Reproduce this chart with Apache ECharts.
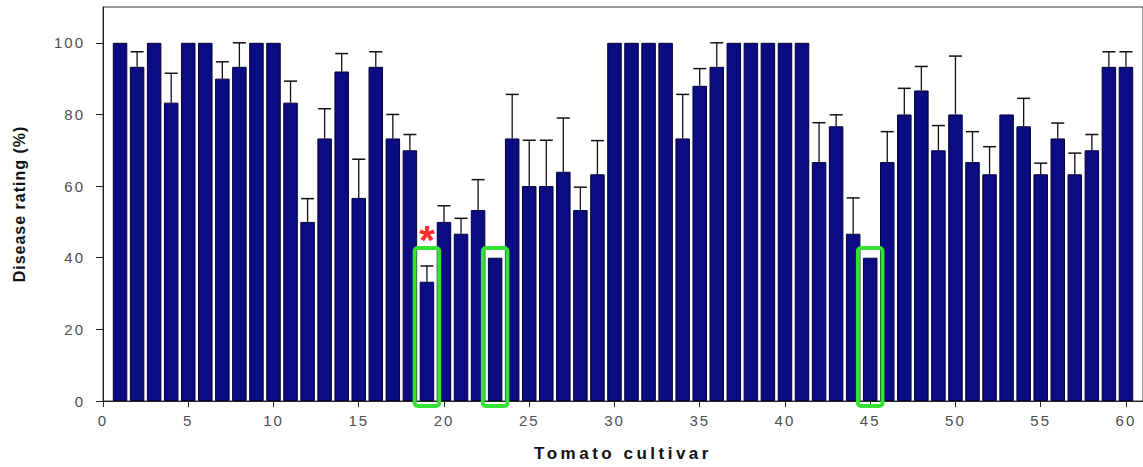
<!DOCTYPE html>
<html>
<head>
<meta charset="utf-8">
<script src="https://cdn.jsdelivr.net/npm/echarts@6/dist/echarts.min.js"></script>
<style>
  html, body { margin: 0; padding: 0; background: #fff; }
  #chart { width: 1143px; height: 467px; }
  #chart text[style*="15px"] { letter-spacing: 2px; }
  #chart text[style*="17px"] { letter-spacing: 3.5px; }
  #chart text[style*="16px"] { letter-spacing: 1px; }
</style>
</head>
<body>
<div id="chart"></div>
<script>
// ---- data ----
const cultivars = [1,2,3,4,5,6,7,8,9,10,11,12,13,14,15,16,17,18,19,20,21,22,23,24,25,26,27,28,29,30,
                   31,32,33,34,35,36,37,38,39,40,41,42,43,44,45,46,47,48,49,50,51,52,53,54,55,56,57,58,59,60];
const diseaseRating = [100,93.3,100,83.3,100,100,90,93.3,100,100,83.3,50,73.3,92,56.7,93.3,73.3,70,33.3,50,
                       46.7,53.3,40,73.3,60,60,64,53.3,63.3,100,100,100,100,73.3,88,93.3,100,100,100,100,
                       100,66.7,76.7,46.7,40,66.7,80,86.7,70,80,66.7,63.3,80,76.7,63.3,73.3,63.3,70,93.3,93.3];
const errorUp = [0,4.2,0,8.2,0,0,4.7,6.7,0,0,6,6.5,8.3,5,10.8,4.2,6.7,4.4,4.4,4.5,
                 4.3,8.5,0,12.3,12.8,12.8,15,6.4,9.4,0,0,0,0,12.3,4.8,6.7,0,0,0,0,
                 0,11,3.2,10,0,8.5,7.3,6.7,6.9,16.3,8.5,7.7,0,7.8,3.1,4.3,5.9,4.4,4.2,4.2];
const highlighted = [19, 23, 45];
const starred = [19];
const xTicks = [0,5,10,15,20,25,30,35,40,45,50,55,60];
const yTicks = [0,20,40,60,80,100];

// ---- build ----
const barData = cultivars.map((c, i) => [c, diseaseRating[i]]);
const errData = cultivars.map((c, i) => [c, diseaseRating[i], errorUp[i]]);
const boxData = highlighted.map(c => [c, starred.indexOf(c) >= 0 ? 1 : 0]);

const chart = echarts.init(document.getElementById('chart'), null, { renderer: 'svg' });

const tickFont = { fontFamily: 'Liberation Sans, Arial, sans-serif', fontSize: 15, color: '#505050' };

chart.setOption({
  backgroundColor: '#ffffff',
  animation: false,
  grid: { left: 103, right: 0, top: 7, bottom: 65, show: true, borderColor: '#333', borderWidth: 1, backgroundColor: 'transparent' },
  xAxis: {
    type: 'value', min: 0, max: 61, interval: 5,
    splitLine: { show: false },
    axisLine: { show: true, lineStyle: { color: '#222', width: 1 } },
    axisTick: { show: true, length: 6, lineStyle: { color: '#222' }, customValues: xTicks },
    axisLabel: Object.assign({ margin: 12, customValues: xTicks, formatter: v => String(v) }, tickFont),
    name: 'Tomato cultivar', nameLocation: 'middle', nameGap: 44,
    nameTextStyle: { fontFamily: 'Liberation Sans, Arial, sans-serif', fontSize: 17, fontWeight: 'bold', color: '#111' }
  },
  yAxis: {
    type: 'value', min: 0, max: 110, interval: 20,
    splitLine: { show: false },
    axisLine: { show: true, lineStyle: { color: '#222', width: 1 } },
    axisTick: { show: true, length: 7, lineStyle: { color: '#222' }, customValues: yTicks },
    axisLabel: Object.assign({ margin: 18, customValues: yTicks, formatter: v => String(v) }, tickFont),
    name: 'Disease rating (%)', nameLocation: 'middle', nameRotate: 90, nameGap: 76,
    nameTextStyle: { fontFamily: 'Liberation Sans, Arial, sans-serif', fontSize: 16, fontWeight: 'bold', color: '#111' }
  },
  series: [
    {
      type: 'bar', data: barData, barWidth: 14.5,
      itemStyle: { color: '#0b0b82', borderColor: '#02023a', borderWidth: 1 },
      z: 2
    },
    {
      type: 'custom', data: errData, z: 3,
      renderItem: function (params, api) {
        const x = api.value(0), v = api.value(1), e = api.value(2);
        if (!e) return null;
        const p0 = api.coord([x, v]);
        const p1 = api.coord([x, v + e]);
        const half = 6.5;
        return {
          type: 'group',
          children: [
            { type: 'line', shape: { x1: p0[0], y1: p0[1], x2: p1[0], y2: p1[1] }, style: { stroke: '#111', lineWidth: 1.3 } },
            { type: 'line', shape: { x1: p1[0] - half, y1: p1[1], x2: p1[0] + half, y2: p1[1] }, style: { stroke: '#111', lineWidth: 1.5 } }
          ]
        };
      }
    },
    {
      type: 'custom', data: boxData, z: 5, clip: false,
      renderItem: function (params, api) {
        const x = api.value(0), star = api.value(1);
        const tl = api.coord([x - 0.72, 42.7]);
        const br = api.coord([x + 0.72, 0]);
        const bottom = br[1] + 5;
        const children = [{
          type: 'rect',
          shape: { x: tl[0], y: tl[1], width: br[0] - tl[0], height: bottom - tl[1], r: 3 },
          style: { fill: 'none', stroke: '#33e233', lineWidth: 4 }
        }];
        if (star) {
          children.push({
            type: 'text',
            style: { x: (tl[0] + br[0]) / 2, y: tl[1] - 8, text: '*', fill: '#ff2a2a', fontWeight: 'bold',
                     fontSize: 40, fontFamily: 'Liberation Sans, Arial, sans-serif', align: 'center', verticalAlign: 'middle' }
          });
        }
        return { type: 'group', children: children };
      }
    }
  ]
});
</script>
</body>
</html>
